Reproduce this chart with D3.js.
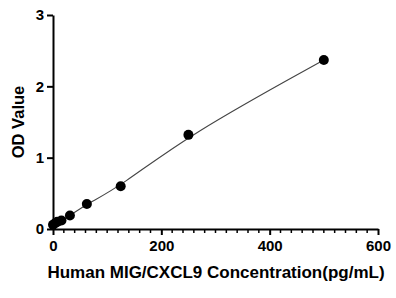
<!DOCTYPE html>
<html>
<head>
<meta charset="utf-8">
<script src="https://cdn.jsdelivr.net/npm/d3@7"></script>
<style>
  body { margin: 0; background: #fff; }
  text { font-family: "Liberation Sans", Arial, sans-serif; font-weight: bold; fill: #000; }
</style>
</head>
<body>
<svg width="396" height="298"></svg>
<script>
// data
var conc = [0, 3.9, 7.8, 15.6, 31.25, 62.5, 125, 250, 500];
var od   = [0.06, 0.08, 0.10, 0.12, 0.19, 0.35, 0.60, 1.32, 2.37];
var xTicks = [0, 200, 400, 600];
var yTicks = [0, 1, 2, 3];

var svg = d3.select("svg");

var x = d3.scaleLinear().domain([0, 600]).range([53, 378]);
var y = d3.scaleLinear().domain([0, 3]).range([229, 15]);

var points = conc.map(function(c, i) { return {x: c, y: od[i]}; });

// fitted curve
var line = d3.line()
    .x(function(d) { return x(d.x); })
    .y(function(d) { return y(d.y); })
    .curve(d3.curveBasis);

svg.append("path")
    .datum(points)
    .attr("d", line)
    .attr("fill", "none")
    .attr("stroke", "#444")
    .attr("stroke-width", 1.1);

// x axis, minor ticks every 20
var xMinor = d3.range(0, 601, 20).filter(function(v) { return v % 200 != 0; });
var gx = svg.append("g").attr("transform", "translate(0," + y(0) + ")");
gx.selectAll(".minor").data(xMinor).enter().append("line")
    .attr("x1", function(d) { return x(d); })
    .attr("x2", function(d) { return x(d); })
    .attr("y1", 0).attr("y2", 4)
    .attr("stroke", "#000").attr("stroke-width", 1.5);
gx.call(d3.axisBottom(x).tickValues(xTicks).tickSize(6).tickSizeOuter(0).tickPadding(5))
gx.select(".domain").attr("stroke-width", 2);
gx.selectAll(".tick line").attr("stroke-width", 2);
gx.selectAll(".tick text").attr("font-size", 15).style("font-family", "Liberation Sans, Arial, sans-serif").style("font-weight", "bold");

var gy = svg.append("g").attr("transform", "translate(" + x(0) + ",0)");
gy.call(d3.axisLeft(y).tickValues(yTicks).tickFormat(d3.format("d")).tickSize(6).tickSizeOuter(0).tickPadding(3));
gy.select(".domain").attr("stroke-width", 2);
gy.selectAll(".tick line").attr("stroke-width", 2);
gy.selectAll(".tick text").attr("font-size", 15).style("font-family", "Liberation Sans, Arial, sans-serif").style("font-weight", "bold");

// points
svg.append("g").selectAll("circle").data(points).enter().append("circle")
    .attr("cx", function(d) { return x(d.x); })
    .attr("cy", function(d) { return y(d.y); })
    .attr("r", 5)
    .attr("fill", "#000");

// titles
svg.append("text")
    .attr("x", 216).attr("y", 278)
    .attr("text-anchor", "middle")
    .attr("font-size", 17)
    .text("Human MIG/CXCL9 Concentration(pg/mL)");

svg.append("text")
    .attr("transform", "translate(24," + y(1.5) + ") rotate(-90)")
    .attr("text-anchor", "middle")
    .attr("font-size", 16.5)
    .text("OD Value");
</script>
</body>
</html>
